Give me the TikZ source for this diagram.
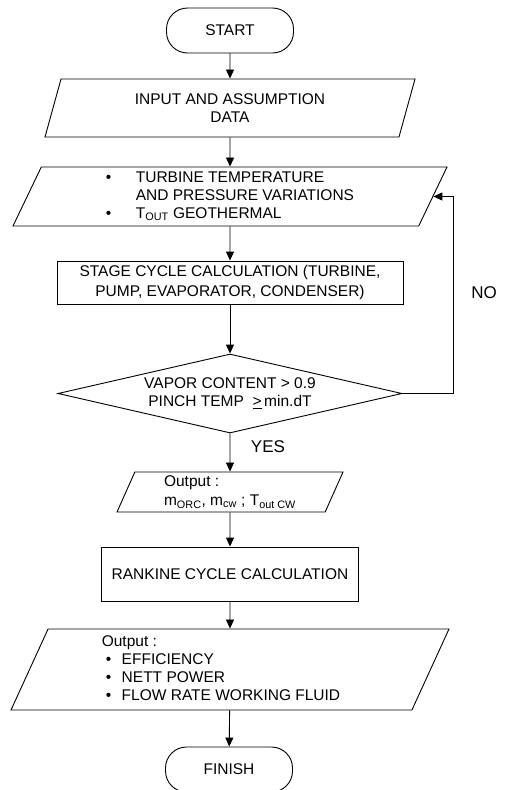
\documentclass[tikz,border=0pt]{standalone}
\usepackage{fontspec}
\setmainfont{Liberation Sans}
\usepackage{tikz}
\usetikzlibrary{arrows.meta,shapes.geometric}

\begin{document}
\begin{tikzpicture}[x=1pt,y=-1pt,line width=0.9pt,
  every node/.style={font=\fontsize{15.5}{18}\selectfont},
  terminal/.style={draw,rectangle,rounded corners=21pt,minimum width=127pt,minimum height=45pt},
  io/.style={draw,trapezium,trapezium left angle=64,trapezium right angle=116,
    trapezium stretches body=true,inner sep=2pt},
  process/.style={draw,rectangle,inner sep=2pt},
  decision/.style={draw,diamond,aspect=4.35,minimum width=344pt,minimum height=79pt,
    inner sep=0pt,align=center},
  answer/.style={font=\fontsize{17}{20}\selectfont},
  >={Triangle[length=9pt,width=8pt]}]
  \useasboundingbox (0,0) rectangle (512,790);

  % the boxes, top to bottom
  \node[terminal] (start) at (230,30.5) {START};
  \node[io,minimum width=370pt,minimum height=58pt,align=center] (input) at (230,108)
    {INPUT AND ASSUMPTION\\DATA};
  \node[io,minimum width=434pt,minimum height=59pt] (turb) at (230,196.5)
    {\begin{tabular}{@{}l@{\hspace{24.5pt}}l@{}}
      \textbullet & TURBINE TEMPERATURE\\
                  & AND PRESSURE VARIATIONS\\
      \textbullet & T\textsubscript{OUT} GEOTHERMAL
     \end{tabular}};
  \node[process,minimum width=346pt,minimum height=43pt,align=center,
    font=\fontsize{15.5}{20}\selectfont] (stage) at (230,282.5)
    {STAGE CYCLE CALCULATION (TURBINE,\\PUMP, EVAPORATOR, CONDENSER)};
  \node[decision] (dec) at (230,393.5)
    {VAPOR CONTENT > 0.9\\PINCH TEMP \ \underline{>}\,min.dT};
  \node[io,minimum width=226pt,minimum height=40pt,align=left,
    font=\fontsize{15.5}{19}\selectfont] (out1) at (230,492)
    {Output :\\m\textsubscript{ORC}, m\textsubscript{cw} ; T\textsubscript{out CW}};
  \node[process,minimum width=257pt,minimum height=54pt] (rank) at (230,574)
    {RANKINE CYCLE CALCULATION};
  \node[io,minimum width=438pt,minimum height=81pt] (out2) at (230,669.5)
    {\begin{tabular}{@{\hspace{4pt}}l@{\hspace{10.5pt}}l@{\hspace{18pt}}}
      \multicolumn{2}{@{}l}{Output :}\\
      \textbullet & EFFICIENCY\\
      \textbullet & NETT POWER\\
      \textbullet & FLOW RATE WORKING FLUID
     \end{tabular}};
  \node[terminal] (finish) at (229,769.5) {FINISH};

  % labels of the two ways out of the test
  \node[answer] (yes) at (268,447) {YES};
  \node[answer] (no) at (484,293) {NO};
  \coordinate (back) at (453,393.5);

  % the arrows
  \draw[->] (start) -- (input);
  \draw[->] (input) -- (turb);
  \draw[->] (turb) -- (stage);
  \draw[->] (stage) -- (dec);
  \draw[->] (dec) -- (out1);
  \draw[->] (out1) -- (rank);
  \draw[->] (rank) -- (out2);
  \draw[->] (out2) -- (finish);
  \draw[->] (dec.east) -- (back) |- (turb.east);
\end{tikzpicture}
\end{document}
